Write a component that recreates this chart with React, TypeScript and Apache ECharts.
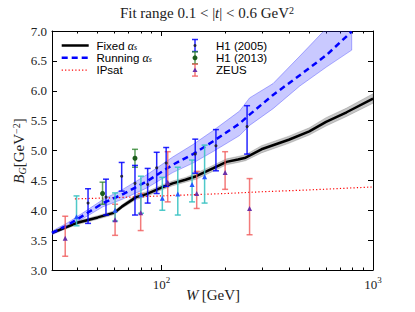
import React, { useEffect, useRef } from 'react';
import * as echarts from 'echarts';

const W_MIN = 30.4;
const W_MAX = 1000;
const B_MIN = 3;
const B_MAX = 7;
const B_STEP = 0.5;

const xMajorTicks = [100, 1000];
const xMinorTicks = [40, 50, 60, 70, 80, 90, 200, 300, 400, 500, 600, 700, 800, 900];

// Fixed alpha_s curve + band
const fixedW = [30.4, 40, 50, 60, 65, 76, 85, 100, 113, 130, 146, 175, 203, 230, 250, 297, 400, 500, 600, 750, 1000];
const fixedB = [3.62, 3.79, 3.88, 3.96, 4.06, 4.22, 4.27, 4.38, 4.45, 4.51, 4.57, 4.70, 4.81, 4.85, 4.88, 5.02, 5.18, 5.32, 5.48, 5.64, 5.87];
const fixedLo = [3.60, 3.76, 3.85, 3.93, 4.03, 4.18, 4.23, 4.34, 4.41, 4.47, 4.52, 4.65, 4.76, 4.80, 4.83, 4.96, 5.12, 5.26, 5.41, 5.57, 5.79];
const fixedHi = [3.64, 3.82, 3.91, 3.99, 4.09, 4.26, 4.31, 4.42, 4.49, 4.55, 4.62, 4.75, 4.86, 4.90, 4.93, 5.08, 5.24, 5.38, 5.55, 5.71, 5.95];

// Running alpha_s curve + band
const runW = [30.4, 36, 44, 53, 65, 85, 100, 113, 141, 175, 234, 261, 337, 451, 604, 793];
const runB = [3.62, 3.75, 3.94, 4.12, 4.26, 4.48, 4.64, 4.76, 4.94, 5.15, 5.45, 5.60, 5.93, 6.26, 6.60, 6.99];
const runLo = [3.59, 3.71, 3.89, 4.06, 4.18, 4.37, 4.52, 4.63, 4.79, 4.98, 5.25, 5.42, 5.70, 6.08, 6.40, 6.68];
const runHi = [3.65, 3.79, 3.99, 4.18, 4.34, 4.59, 4.76, 4.89, 5.10, 5.33, 5.66, 5.88, 6.12, 6.58, 7.05, 7.35];

// IPsat
const ipsatW = [39, 60, 100, 200, 300, 500, 1000];
const ipsatB = [4.19, 4.21, 4.24, 4.28, 4.31, 4.34, 4.39];

// H1 (2005)
const h1aW = [45.0, 54.7, 64.9, 75.0, 86.1, 95.0, 105.3, 144.5, 181, 254];
const h1aB = [4.12, 4.22, 4.57, 4.45, 4.43, 4.71, 4.79, 4.94, 5.08, 5.40];
const h1aLo = [3.78, 3.92, 4.32, 3.92, 4.12, 4.28, 4.40, 4.62, 4.66, 4.94];
const h1aHi = [4.36, 4.52, 4.80, 4.75, 4.70, 4.97, 5.05, 5.19, 5.35, 5.75];

// H1 (2013)
const h1bW = [52.7, 75.0];
const h1bB = [4.28, 4.87];
const h1bLo = [4.10, 4.72];
const h1bHi = [4.47, 5.02];

// additional H1 points (cyan)
const cyanW = [39.7, 60.4, 80, 101, 119.5, 139.6, 160];
const cyanB = [3.89, 4.00, 4.26, 4.20, 4.27, 4.43, 4.56];
const cyanLo = [3.74, 3.82, 3.95, 4.00, 3.92, 4.14, 4.12];
const cyanHi = [4.24, 4.29, 4.57, 4.55, 4.72, 4.84, 5.09];

// ZEUS
const zeusW = [35.1, 60.4, 79.8, 107.1, 146.8, 200, 261];
const zeusB = [3.53, 3.84, 3.96, 4.47, 4.28, 4.63, 4.03];
const zeusLo = [3.23, 3.58, 3.66, 4.14, 4.03, 4.35, 3.59];
const zeusHi = [3.90, 4.10, 4.28, 4.98, 4.65, 4.98, 4.53];

const SERIF = '"Liberation Serif", "DejaVu Serif", serif';
const SANS = '"Liberation Sans", Arial, sans-serif';

function bandSeries(ws: number[], lo: number[], hi: number[], fill: string, stroke: string, z: number) {
  return {
    type: 'custom',
    xAxisIndex: 0,
    yAxisIndex: 0,
    silent: true,
    clip: true,
    z,
    data: [[ws[0], lo[0]]],
    renderItem: (_p: any, api: any) => {
      const pts: number[][] = [];
      for (let i = 0; i < ws.length; i++) pts.push(api.coord([ws[i], hi[i]]));
      for (let i = ws.length - 1; i >= 0; i--) pts.push(api.coord([ws[i], lo[i]]));
      return { type: 'polygon', shape: { points: pts }, style: { fill, stroke, lineWidth: 1 } };
    },
  };
}

function errSeries(ws: number[], lo: number[], hi: number[], color: string, z: number) {
  return {
    type: 'custom',
    xAxisIndex: 0,
    yAxisIndex: 0,
    silent: true,
    clip: true,
    z,
    encode: { x: 0, y: [1, 2] },
    data: ws.map((w, i) => [w, lo[i], hi[i]]),
    renderItem: (_p: any, api: any) => {
      const x = api.value(0);
      const a = api.coord([x, api.value(1)]);
      const b = api.coord([x, api.value(2)]);
      const st = { stroke: color, lineWidth: 1.5 };
      return {
        type: 'group',
        children: [
          { type: 'line', shape: { x1: a[0], y1: a[1], x2: b[0], y2: b[1] }, style: st },
          { type: 'line', shape: { x1: a[0] - 3, y1: a[1], x2: a[0] + 3, y2: a[1] }, style: st },
          { type: 'line', shape: { x1: b[0] - 3, y1: b[1], x2: b[0] + 3, y2: b[1] }, style: st },
        ],
      };
    },
  };
}

function markerSeries(ws: number[], bs: number[], symbol: string, size: number, color: string, z: number) {
  return {
    type: 'scatter',
    xAxisIndex: 0,
    yAxisIndex: 0,
    silent: true,
    z,
    symbol,
    symbolSize: size,
    itemStyle: { color, opacity: 1 },
    data: ws.map((w, i) => [w, bs[i]]),
  };
}

function lineSeries(ws: number[], bs: number[], color: string, width: number, type: any, z: number) {
  return {
    type: 'line',
    xAxisIndex: 0,
    yAxisIndex: 0,
    silent: true,
    showSymbol: false,
    symbol: 'none',
    clip: true,
    z,
    lineStyle: { color, width, type },
    data: ws.map((w, i) => [w, bs[i]]),
  };
}

function logAxis(position: string, ticks: number[], len: number, showLine: boolean, showLabel: boolean) {
  return {
    type: 'log',
    logBase: 10,
    min: W_MIN,
    max: W_MAX,
    position,
    gridIndex: 0,
    axisLine: { show: showLine, lineStyle: { color: '#000', width: 1 } },
    axisTick: { show: true, inside: true, length: len, customValues: ticks, lineStyle: { color: '#000', width: 1 } },
    axisLabel: showLabel
      ? {
          show: true,
          customValues: ticks,
          margin: 5,
          formatter: (v: number) => `{b|10}{s|${Math.round(Math.log10(v))}}`,
          rich: {
            b: { fontFamily: SERIF, fontSize: 13, color: '#222', lineHeight: 16, verticalAlign: 'bottom' },
            s: { fontFamily: SERIF, fontSize: 9, color: '#222', lineHeight: 10, verticalAlign: 'top' },
          },
        }
      : { show: false },
    splitLine: { show: false },
    minorTick: { show: false },
    minorSplitLine: { show: false },
  };
}

function valAxis(position: string, showLabel: boolean) {
  return {
    type: 'value',
    min: B_MIN,
    max: B_MAX,
    interval: B_STEP,
    position,
    gridIndex: 0,
    axisLine: { show: true, lineStyle: { color: '#000', width: 1 } },
    axisTick: { show: true, inside: true, length: 5, lineStyle: { color: '#000', width: 1 } },
    axisLabel: {
      show: showLabel,
      margin: 5,
      fontFamily: SERIF,
      fontSize: 13,
      color: '#222',
      formatter: (v: number) => v.toFixed(1),
    },
    splitLine: { show: false },
  };
}

export default function App() {
  const ref = useRef<HTMLDivElement>(null);
  useEffect(() => {
    if (!ref.current) return;
    const chart = echarts.init(ref.current, undefined, { renderer: 'svg' });
    const lx = 61.7;
    const ex = 195;
    const legendRows = [45.5, 57.8, 70.1];
    const legendErr = [45.5, 57.8, 70.1];
    const errLegend = (cy: number, color: string, marker: any) => [
      { type: 'line', shape: { x1: ex, y1: cy - 6, x2: ex, y2: cy + 6 }, style: { stroke: color, lineWidth: 1.5 } },
      { type: 'line', shape: { x1: ex - 3, y1: cy - 6, x2: ex + 3, y2: cy - 6 }, style: { stroke: color, lineWidth: 1.5 } },
      { type: 'line', shape: { x1: ex - 3, y1: cy + 6, x2: ex + 3, y2: cy + 6 }, style: { stroke: color, lineWidth: 1.5 } },
      marker,
    ];
    const legendText = (x: number, y: number, text: string, rich?: any) => ({
      type: 'text',
      x,
      y,
      style: {
        text,
        fontFamily: SANS,
        fontSize: 11.5,
        lineHeight: 11,
        fill: '#000',
        verticalAlign: 'middle',
        align: 'left',
        rich,
      },
    });
    const alphaRich = {
      n: { fontFamily: SANS, fontSize: 11.5, fill: '#000', lineHeight: 11, verticalAlign: 'middle' },
      a: { fontFamily: SERIF, fontStyle: 'italic', fontSize: 12, fill: '#000', lineHeight: 11, verticalAlign: 'middle' },
      s: { fontFamily: SERIF, fontStyle: 'italic', fontSize: 8, fill: '#000', lineHeight: 7, verticalAlign: 'bottom' },
    };
    chart.setOption({
      animation: false,
      grid: { left: 52, right: 42, top: 31, bottom: 42, containLabel: false },
      xAxis: [
        logAxis('bottom', xMajorTicks, 5, true, true),
        logAxis('bottom', xMinorTicks, 2.5, false, false),
        logAxis('top', xMajorTicks, 5, true, false),
        logAxis('top', xMinorTicks, 2.5, false, false),
      ],
      yAxis: [valAxis('left', true), valAxis('right', false)],
      series: [
        bandSeries(runW, runLo, runHi, 'rgba(40,40,255,0.25)', 'rgba(40,40,255,0.35)', 1),
        bandSeries(fixedW, fixedLo, fixedHi, 'rgba(90,90,90,0.35)', 'rgba(90,90,90,0.25)', 1),
        lineSeries(ipsatW, ipsatB, '#ff0000', 1.2, [1.2, 2.2], 2),
        lineSeries(fixedW, fixedB, '#000000', 2.5, 'solid', 3),
        lineSeries(runW, runB, '#0000ff', 2.5, [6, 4], 3),
        errSeries(zeusW, zeusLo, zeusHi, 'rgba(240,90,90,0.8)', 4),
        errSeries(cyanW, cyanLo, cyanHi, 'rgba(60,195,195,0.9)', 4),
        errSeries(h1bW, h1bLo, h1bHi, 'rgba(40,130,40,0.75)', 4),
        errSeries(h1aW, h1aLo, h1aHi, 'rgba(0,0,255,0.85)', 4),
        markerSeries(zeusW, zeusB, 'triangle', 5, '#6a2fa8', 5),
        markerSeries(cyanW, cyanB, 'triangle', 5, '#2457ff', 5),
        markerSeries(h1bW, h1bB, 'circle', 5, '#1c5c1c', 5),
        markerSeries(h1aW, h1aB, 'circle', 3, '#222244', 5),
      ],
      graphic: [
        {
          type: 'text',
          x: 207,
          y: 13,
          style: {
            text: '{n|Fit range 0.1 < |}{i|t}{n|| < 0.6 GeV}{s|2}',
            align: 'center',
            verticalAlign: 'middle',
            rich: {
              n: { fontFamily: SERIF, fontSize: 15, fill: '#222', lineHeight: 16, verticalAlign: 'middle' },
              i: { fontFamily: SERIF, fontStyle: 'italic', fontSize: 15, fill: '#222', lineHeight: 16, verticalAlign: 'middle' },
              s: { fontFamily: SERIF, fontSize: 10, fill: '#222', lineHeight: 9, verticalAlign: 'top' },
            },
          },
        },
        {
          type: 'text',
          x: 19,
          y: 151,
          rotation: Math.PI / 2,
          style: {
            text: '{i|B}{g|G}{n|[GeV}{s|−2}{n|]}',
            align: 'center',
            verticalAlign: 'middle',
            rich: {
              i: { fontFamily: SERIF, fontStyle: 'italic', fontSize: 15, fill: '#222', lineHeight: 16, verticalAlign: 'middle' },
              g: { fontFamily: SERIF, fontStyle: 'italic', fontSize: 10, fill: '#222', lineHeight: 8, verticalAlign: 'bottom' },
              n: { fontFamily: SERIF, fontSize: 15, fill: '#222', lineHeight: 16, verticalAlign: 'middle' },
              s: { fontFamily: SERIF, fontSize: 10, fill: '#222', lineHeight: 9, verticalAlign: 'top' },
            },
          },
        },
        {
          type: 'text',
          x: 213,
          y: 295,
          style: {
            text: '{i|W} {n|[GeV]}',
            align: 'center',
            verticalAlign: 'middle',
            rich: {
              i: { fontFamily: SERIF, fontStyle: 'italic', fontSize: 15, fill: '#222' },
              n: { fontFamily: SERIF, fontSize: 15, fill: '#222' },
            },
          },
        },
        // legend - curves
        { type: 'line', shape: { x1: lx, y1: legendRows[0], x2: lx + 27, y2: legendRows[0] }, style: { stroke: '#000', lineWidth: 2.5 } },
        { type: 'line', shape: { x1: lx, y1: legendRows[1], x2: lx + 27, y2: legendRows[1] }, style: { stroke: '#0000ff', lineWidth: 2.5, lineDash: [6, 4] } },
        { type: 'line', shape: { x1: lx, y1: legendRows[2], x2: lx + 27, y2: legendRows[2] }, style: { stroke: '#ff0000', lineWidth: 1.2, lineDash: [1.2, 2.2] } },
        legendText(96.5, legendRows[0], '{n|Fixed }{a|α}{s|s}', alphaRich),
        legendText(96.5, legendRows[1], '{n|Running }{a|α}{s|s}', alphaRich),
        legendText(96.5, legendRows[2], 'IPsat'),
        // legend - data
        ...errLegend(legendErr[0], 'rgba(0,0,255,0.85)', { type: 'circle', shape: { cx: ex, cy: legendErr[0], r: 1.5 }, style: { fill: '#222244' } }),
        ...errLegend(legendErr[1], 'rgba(40,130,40,0.75)', { type: 'circle', shape: { cx: ex, cy: legendErr[1], r: 2.5 }, style: { fill: '#1c5c1c' } }),
        ...errLegend(legendErr[2], 'rgba(240,90,90,0.8)', { type: 'polygon', shape: { points: [[ex, legendErr[2] - 2.5], [ex - 2.5, legendErr[2] + 2], [ex + 2.5, legendErr[2] + 2]] }, style: { fill: '#6a2fa8' } }),
        legendText(216, legendErr[0], 'H1 (2005)'),
        legendText(216, legendErr[1], 'H1 (2013)'),
        legendText(216, legendErr[2], 'ZEUS'),
      ],
    });
    return () => chart.dispose();
  }, []);
  return <div ref={ref} style={{ width: 415, height: 312, position: 'absolute', left: 0, top: 0, background: '#fff' }} />;
}
